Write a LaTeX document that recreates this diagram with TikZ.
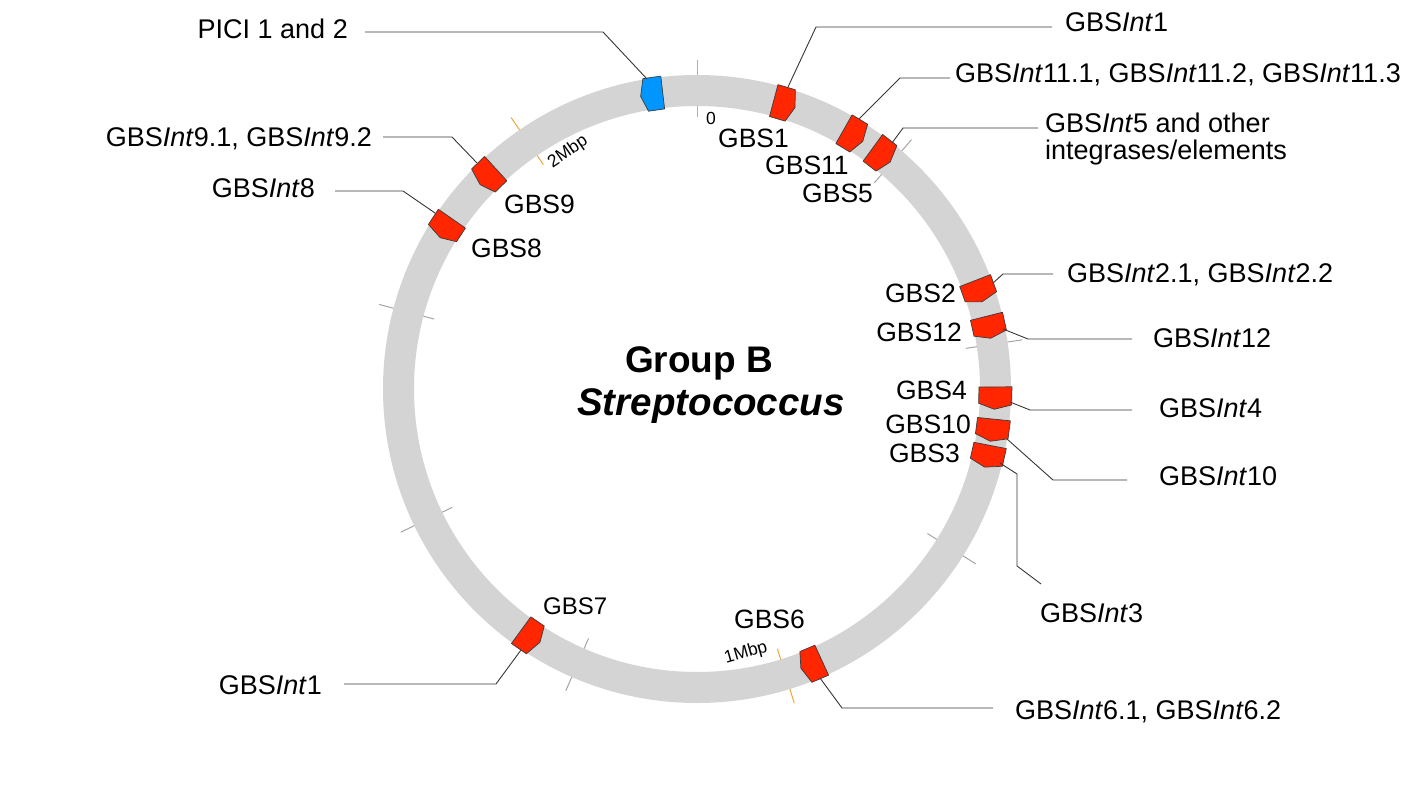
\documentclass[tikz,border=0pt]{standalone}
\usepackage{fontspec}
\setmainfont{Liberation Sans}
\definecolor{ringgray}{RGB}{212,212,212}
\definecolor{tickgray}{RGB}{165,165,165}
\definecolor{tickorange}{RGB}{240,165,60}
\definecolor{featred}{RGB}{255,38,0}
\definecolor{featblue}{RGB}{0,150,255}
\definecolor{featline}{RGB}{60,60,60}
\definecolor{leadcol}{RGB}{55,55,55}
% #1 centre angle (clockwise from top), #2 direction (1 = clockwise, -1 = anticlockwise), #3 fill
\newcommand\gbsfeat[3]{%
  \pgfmathsetmacro\gfa{#1-#2*2.1}%
  \pgfmathsetmacro\gfb{#1+#2*1.2}%
  \pgfmathsetmacro\gfc{#1+#2*2.2}%
  \filldraw[fill=#3, draw=featline, line width=0.7pt, line join=round]
    ({697+315*sin(\gfa)},{389-315*cos(\gfa)}) --
    ({697+315*sin(\gfb)},{389-315*cos(\gfb)}) --
    ({697+298*sin(\gfc)},{389-298*cos(\gfc)}) --
    ({697+282*sin(\gfb)},{389-282*cos(\gfb)}) --
    ({697+282*sin(\gfa)},{389-282*cos(\gfa)}) -- cycle;}
\begin{document}
\begin{tikzpicture}[x=1pt,y=-1pt,
  lab/.style={font=\fontsize{27pt}{31pt}\selectfont, inner ysep=0pt},
  inlab/.style={font=\fontsize{26.5pt}{30pt}\selectfont, inner sep=0pt},
  ticklab/.style={font=\fontsize{17.5pt}{20pt}\selectfont, inner sep=0pt},
  leader/.style={draw=leadcol, line width=0.9pt},
  tickline/.style={line width=1pt},
  title/.style={font=\fontsize{37pt}{42pt}\selectfont\bfseries, inner sep=0pt}]
\useasboundingbox (0,0) rectangle (1417,789);
\fill[white] (0,0) rectangle (1417,789);

% ticks (behind the ring)
\foreach \a in {40.7,81.4,122.1,203.5,244.2,284.9}
  \draw[tickline,tickgray] ({697+272*sin(\a)},{389-272*cos(\a)}) -- ({697+329*sin(\a)},{389-329*cos(\a)});
\foreach \a in {0,162.8,325.6}
  \draw[tickline,tickorange] ({697+272*sin(\a)},{389-272*cos(\a)}) -- ({697+329*sin(\a)},{389-329*cos(\a)});

% ring
\draw[ringgray, line width=31pt] (697,389) circle [radius=298.5pt];

% features
\gbsfeat{351.3}{-1}{featblue}
\gbsfeat{17}{1}{featred}
\gbsfeat{31.6}{1}{featred}
\gbsfeat{38.2}{1}{featred}
\gbsfeat{70.8}{1}{featred}
\gbsfeat{78}{1}{featred}
\gbsfeat{91.7}{1}{featred}
\gbsfeat{97.9}{1}{featred}
\gbsfeat{103}{1}{featred}
\gbsfeat{157.4}{1}{featred}
\gbsfeat{214}{-1}{featred}
\gbsfeat{302.7}{-1}{featred}
\gbsfeat{315.5}{-1}{featred}

% centre title
\node[title, anchor=base] (title1) at (699,372) {Group B};
\node[title, anchor=base, font=\fontsize{38.5pt}{43pt}\selectfont\bfseries\itshape] (title2) at (711,415) {Streptococcus};

% tick labels
\node[ticklab, anchor=base west] (t0) at (706,125) {0};
\node[ticklab, rotate=16] (t1) at (746,653) {1Mbp};
\node[ticklab, rotate=34.5] (t2) at (568,152) {2Mbp};

% element labels on the inside
\node[inlab, anchor=base west] (nGBS1) at (718,148) {GBS1};
\node[inlab, anchor=base west] (nGBS11) at (765,175) {GBS11};
\node[inlab, anchor=base west] (nGBS5) at (802,202) {GBS5};
\node[inlab, anchor=base west] (nGBS9) at (504,213) {GBS9};
\node[inlab, anchor=base west] (nGBS8) at (471,257) {GBS8};
\node[inlab, anchor=base west] (nGBS6) at (734,628) {GBS6};
\node[inlab, anchor=base west, font=\fontsize{24pt}{28pt}\selectfont] (nGBS7) at (543,614) {GBS7};
\node[inlab, anchor=base east] (nGBS2) at (956,302) {GBS2};
\node[inlab, anchor=base east] (nGBS12) at (962,341) {GBS12};
\node[inlab, anchor=base east] (nGBS4) at (967,399) {GBS4};
\node[inlab, anchor=base east] (nGBS10) at (971,433) {GBS10};
\node[inlab, anchor=base east] (nGBS3) at (960,462) {GBS3};

% outer labels
\node[lab, anchor=base east, inner xsep=17pt] (lPICI) at (365,39) {PICI 1 and 2};
\node[lab, anchor=base east, inner xsep=11pt] (lInt9) at (383,147) {GBS\textit{Int}9.1, GBS\textit{Int}9.2};
\node[lab, anchor=base east, inner xsep=20pt] (lInt8) at (335,197) {GBS\textit{Int}8};
\node[lab, anchor=base east, inner xsep=22pt] (lInt1b) at (344,694) {GBS\textit{Int}1};
\node[lab, anchor=base west, inner xsep=13pt] (lInt1) at (1052,32) {GBS\textit{Int}1};
\node[lab, anchor=base west, inner xsep=5pt] (lInt11) at (950,83) {GBS\textit{Int}11.1, GBS\textit{Int}11.2, GBS\textit{Int}11.3};
\node[lab, anchor=base west, inner xsep=7pt] (lInt5) at (1038,133) {GBS\textit{Int}5 and other};
\node[lab, anchor=base west, inner xsep=7pt] (lInt5b) at (1038,160) {integrases/elements};
\node[lab, anchor=base west, inner xsep=14pt] (lInt2) at (1053,282) {GBS\textit{Int}2.1, GBS\textit{Int}2.2};
\node[lab, anchor=base west, inner xsep=21pt] (lInt12) at (1132,347) {GBS\textit{Int}12};
\node[lab, anchor=base west, inner xsep=27pt] (lInt4) at (1132,417) {GBS\textit{Int}4};
\node[lab, anchor=base west, inner xsep=32pt] (lInt10) at (1127,485) {GBS\textit{Int}10};
\node[lab, anchor=base west, inner xsep=0pt] (lInt3) at (1040,622) {GBS\textit{Int}3};
\node[lab, anchor=base west, inner xsep=22pt] (lInt6) at (993,719) {GBS\textit{Int}6.1, GBS\textit{Int}6.2};

% leader anchor points on the elements and bends
\coordinate (fPICI) at (647,79);   \coordinate (kPICI) at (603,32);
\coordinate (f9) at (477,163);     \coordinate (k9) at (452,137);
\coordinate (f8) at (435,213);     \coordinate (k8) at (403,191);
\coordinate (f7) at (521,650);     \coordinate (k7) at (496,684);
\coordinate (f1) at (788,87);      \coordinate (k1) at (816,27);
\coordinate (f11) at (859,119);    \coordinate (k11) at (900,78);
\coordinate (f5) at (892,143);     \coordinate (k5) at (903,128);
\coordinate (f2) at (993,283);     \coordinate (k2) at (1003,274);
\coordinate (f12) at (1003,329);   \coordinate (k12) at (1028,339);
\coordinate (f4) at (1010,402);    \coordinate (k4) at (1030,410);
\coordinate (f10) at (1007,439);   \coordinate (k10) at (1053,480);
\coordinate (f3) at (1000,463);    \coordinate (k3a) at (1017,474);
\coordinate (k3b) at (1017,566);   \coordinate (e3) at (1041,584);
\coordinate (f6) at (820,678);     \coordinate (k6) at (842,708);

% leaders
\draw[leader] (fPICI) -- (kPICI) -- (kPICI -| lPICI.east);
\draw[leader] (f9) -- (k9) -- (k9 -| lInt9.east);
\draw[leader] (f8) -- (k8) -- (k8 -| lInt8.east);
\draw[leader] (f7) -- (k7) -- (k7 -| lInt1b.east);
\draw[leader] (f1) -- (k1) -- (k1 -| lInt1.west);
\draw[leader] (f11) -- (k11) -- (k11 -| lInt11.west);
\draw[leader] (f5) -- (k5) -- (k5 -| lInt5.west);
\draw[leader] (f2) -- (k2) -- (k2 -| lInt2.west);
\draw[leader] (f12) -- (k12) -- (k12 -| lInt12.west);
\draw[leader] (f4) -- (k4) -- (k4 -| lInt4.west);
\draw[leader] (f10) -- (k10) -- (k10 -| lInt10.west);
\draw[leader] (f3) -- (k3a) -- (k3b) -- (e3);
\draw[leader] (f6) -- (k6) -- (k6 -| lInt6.west);
\end{tikzpicture}
\end{document}
